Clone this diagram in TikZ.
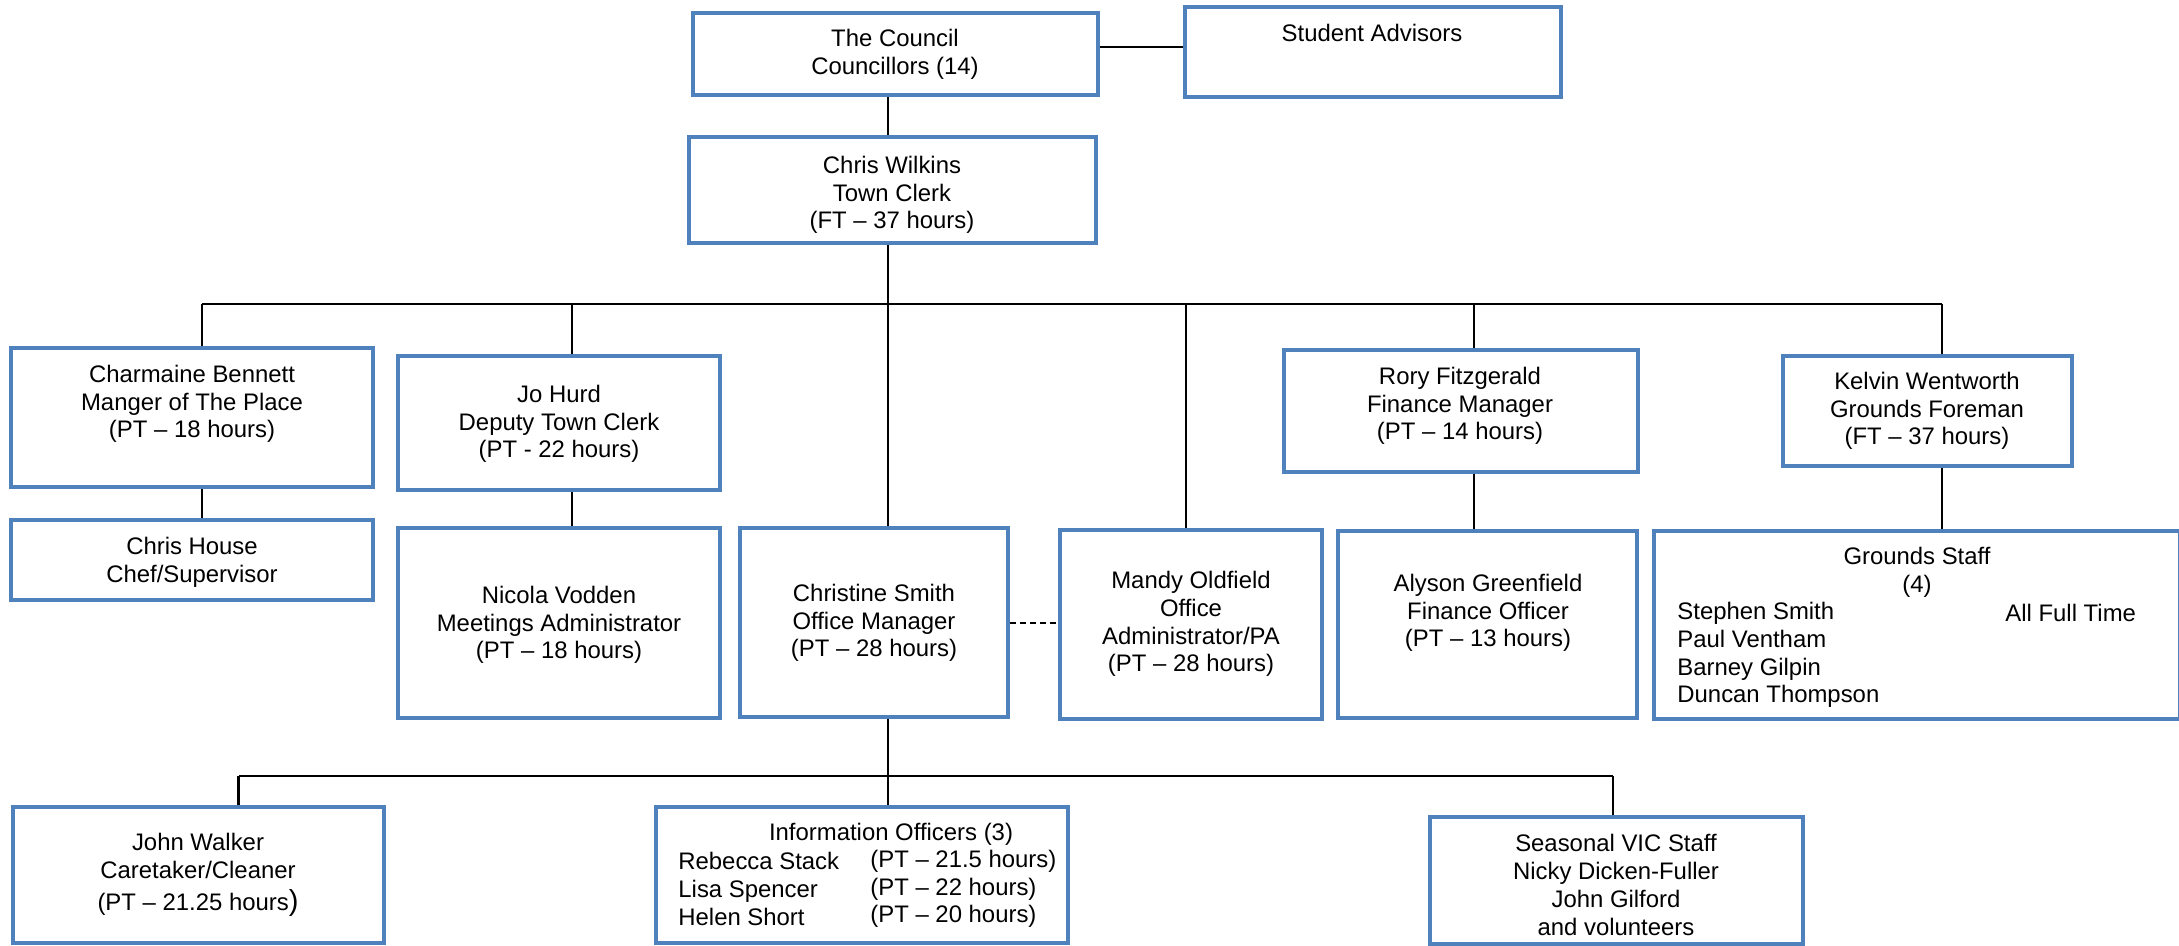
\documentclass[tikz,border=0pt]{standalone}
\usepackage{fontspec}
\setmainfont{Liberation Sans}
\usetikzlibrary{backgrounds}
\definecolor{boxblue}{RGB}{79,129,189}
\newcommand{\bx}[5]{\node[orgbox, minimum width={(#4-#2)*0.5pt}, minimum height={(#5-#3)*0.5pt}] (#1) at ({(#2+#4)/2},{(#3+#5)/2}) {};}
\begin{document}
\begin{tikzpicture}[x=0.5pt,y=-0.5pt,
  orgbox/.style={draw=boxblue, line width=2.25pt, fill=white, inner sep=0pt, rectangle},
  txt/.style={font=\fontsize{11.95pt}{13.9pt}\selectfont, align=center, inner sep=0pt, text=black},
  ltxt/.style={font=\fontsize{11.95pt}{13.9pt}\selectfont, align=left, inner sep=0pt, anchor=west, text=black},
  conn/.style={draw=black, line width=0.85pt},
  thickconn/.style={draw=black, line width=1.3pt}]
\useasboundingbox (0,0) rectangle (2179,946);

% boxes
\bx{council}{693}{13}{1098}{95}
\bx{advisors}{1185}{7}{1561}{97}
\bx{cw}{689}{137}{1096}{243}
\bx{char}{11}{348}{373}{487}
\bx{house}{11}{520}{373}{600}
\bx{jo}{398}{356}{720}{490}
\bx{nicola}{398}{528}{720}{718}
\bx{christine}{740}{528}{1008}{717}
\bx{mandy}{1060}{530}{1322}{719}
\bx{alyson}{1338}{531}{1637}{718}
\bx{rory}{1284}{350}{1638}{472}
\bx{kelvin}{1783}{356}{2072}{466}
\bx{grounds}{1654}{531}{2180.5}{719}
\bx{john}{13}{807}{384}{943}
\bx{info}{656}{807}{1068}{943}
\bx{seasonal}{1430}{817}{1803}{944}

% texts
\node[txt] (councilT) at (895,54) {The Council\\Councillors (14)};
\node[txt] (advisorsT) at (1372,33) {Student Advisors};
\node[txt] (cwT) at (892,195) {Chris Wilkins\\Town Clerk\\(FT – 37 hours)};
\node[txt] (charT) at (192,404) {Charmaine Bennett\\Manger of The Place\\(PT – 18 hours)};
\node[txt] (houseT) at (192,562) {Chris House\\Chef/Supervisor};
\node[txt] (joT) at (559,424) {Jo Hurd\\Deputy Town Clerk\\(PT - 22 hours)};
\node[txt] (nicolaT) at (559,625) {Nicola Vodden\\Meetings Administrator\\(PT – 18 hours)};
\node[txt] (christineT) at (874,623) {Christine Smith\\Office Manager\\(PT – 28 hours)};
\node[txt] (mandyT) at (1191,624) {Mandy Oldfield\\Office\\Administrator/PA\\(PT – 28 hours)};
\node[txt] (alysonT) at (1488,613) {Alyson Greenfield\\Finance Officer\\(PT – 13 hours)};
\node[txt] (roryT) at (1460,406) {Rory Fitzgerald\\Finance Manager\\(PT – 14 hours)};
\node[txt] (kelvinT) at (1927,411) {Kelvin Wentworth\\Grounds Foreman\\(FT – 37 hours)};
\node[txt] (groundsT) at (1917,572) {Grounds Staff\\(4)};
\node[ltxt] (groundsN) at (1677,655) {Stephen Smith\\Paul Ventham\\Barney Gilpin\\Duncan Thompson};
\node[ltxt] (groundsF) at (2005,613) {All Full Time};
\node[txt] (johnT) at (198,875) {John Walker\\Caretaker/Cleaner\\[2.5pt](PT – 21.25 hours{\fontsize{14.5pt}{15pt}\selectfont )}};
\node[txt] (infoT) at (891,834) {Information Officers (3)};
\node[ltxt] (infoN) at (678,889) {Rebecca Stack\\Lisa Spencer\\Helen Short};
\node[ltxt] (infoH) at (870,889) {(PT – 21.5 hours)\\(PT – 22 hours)\\(PT – 20 hours)};
\node[txt] (seasonalT) at (1616,885) {Seasonal VIC Staff\\Nicky Dicken-Fuller\\John Gilford\\and volunteers};

% connector coordinates
\coordinate (ca) at (0,47);
\coordinate (cwx) at (888,0);
\coordinate (b1L) at (202,304);
\coordinate (bj) at (572,304);
\coordinate (bm) at (1186,304);
\coordinate (br) at (1474,304);
\coordinate (b1R) at (1942,304);
\coordinate (dsh) at (0,623);
\coordinate (b2L) at (238.5,776);
\coordinate (b2R) at (1613,776);

\begin{scope}[on background layer]
\draw[conn] (council.east |- ca) -- (advisors.west |- ca);
\draw[conn] (council.south -| cwx) -- (cw.north -| cwx);
\draw[conn] (b1L) -- (b1R);
\draw[conn] (b1L) -- (char.north -| b1L);
\draw[conn] (bj) -- (jo.north -| bj);
\draw[conn] (cw.south -| cwx) -- (christine.north -| cwx);
\draw[conn] (bm) -- (mandy.north -| bm);
\draw[conn] (br) -- (rory.north -| br);
\draw[thickconn] (b1R) -- (kelvin.north -| b1R);
\draw[conn] (char.south -| b1L) -- (house.north -| b1L);
\draw[conn] (jo.south -| bj) -- (nicola.north -| bj);
\draw[conn] (rory.south -| br) -- (alyson.north -| br);
\draw[thickconn] (kelvin.south -| b1R) -- (grounds.north -| b1R);
\draw[conn, dash pattern=on 3pt off 2pt] (christine.east |- dsh) -- (mandy.west |- dsh);
\draw[conn] (christine.south -| cwx) -- (info.north -| cwx);
\draw[thickconn] (b2L) -- (b2R);
\draw[thickconn] (b2L) -- (john.north -| b2L);
\draw[conn] (b2R) -- (seasonal.north -| b2R);
\end{scope}
\end{tikzpicture}
\end{document}
